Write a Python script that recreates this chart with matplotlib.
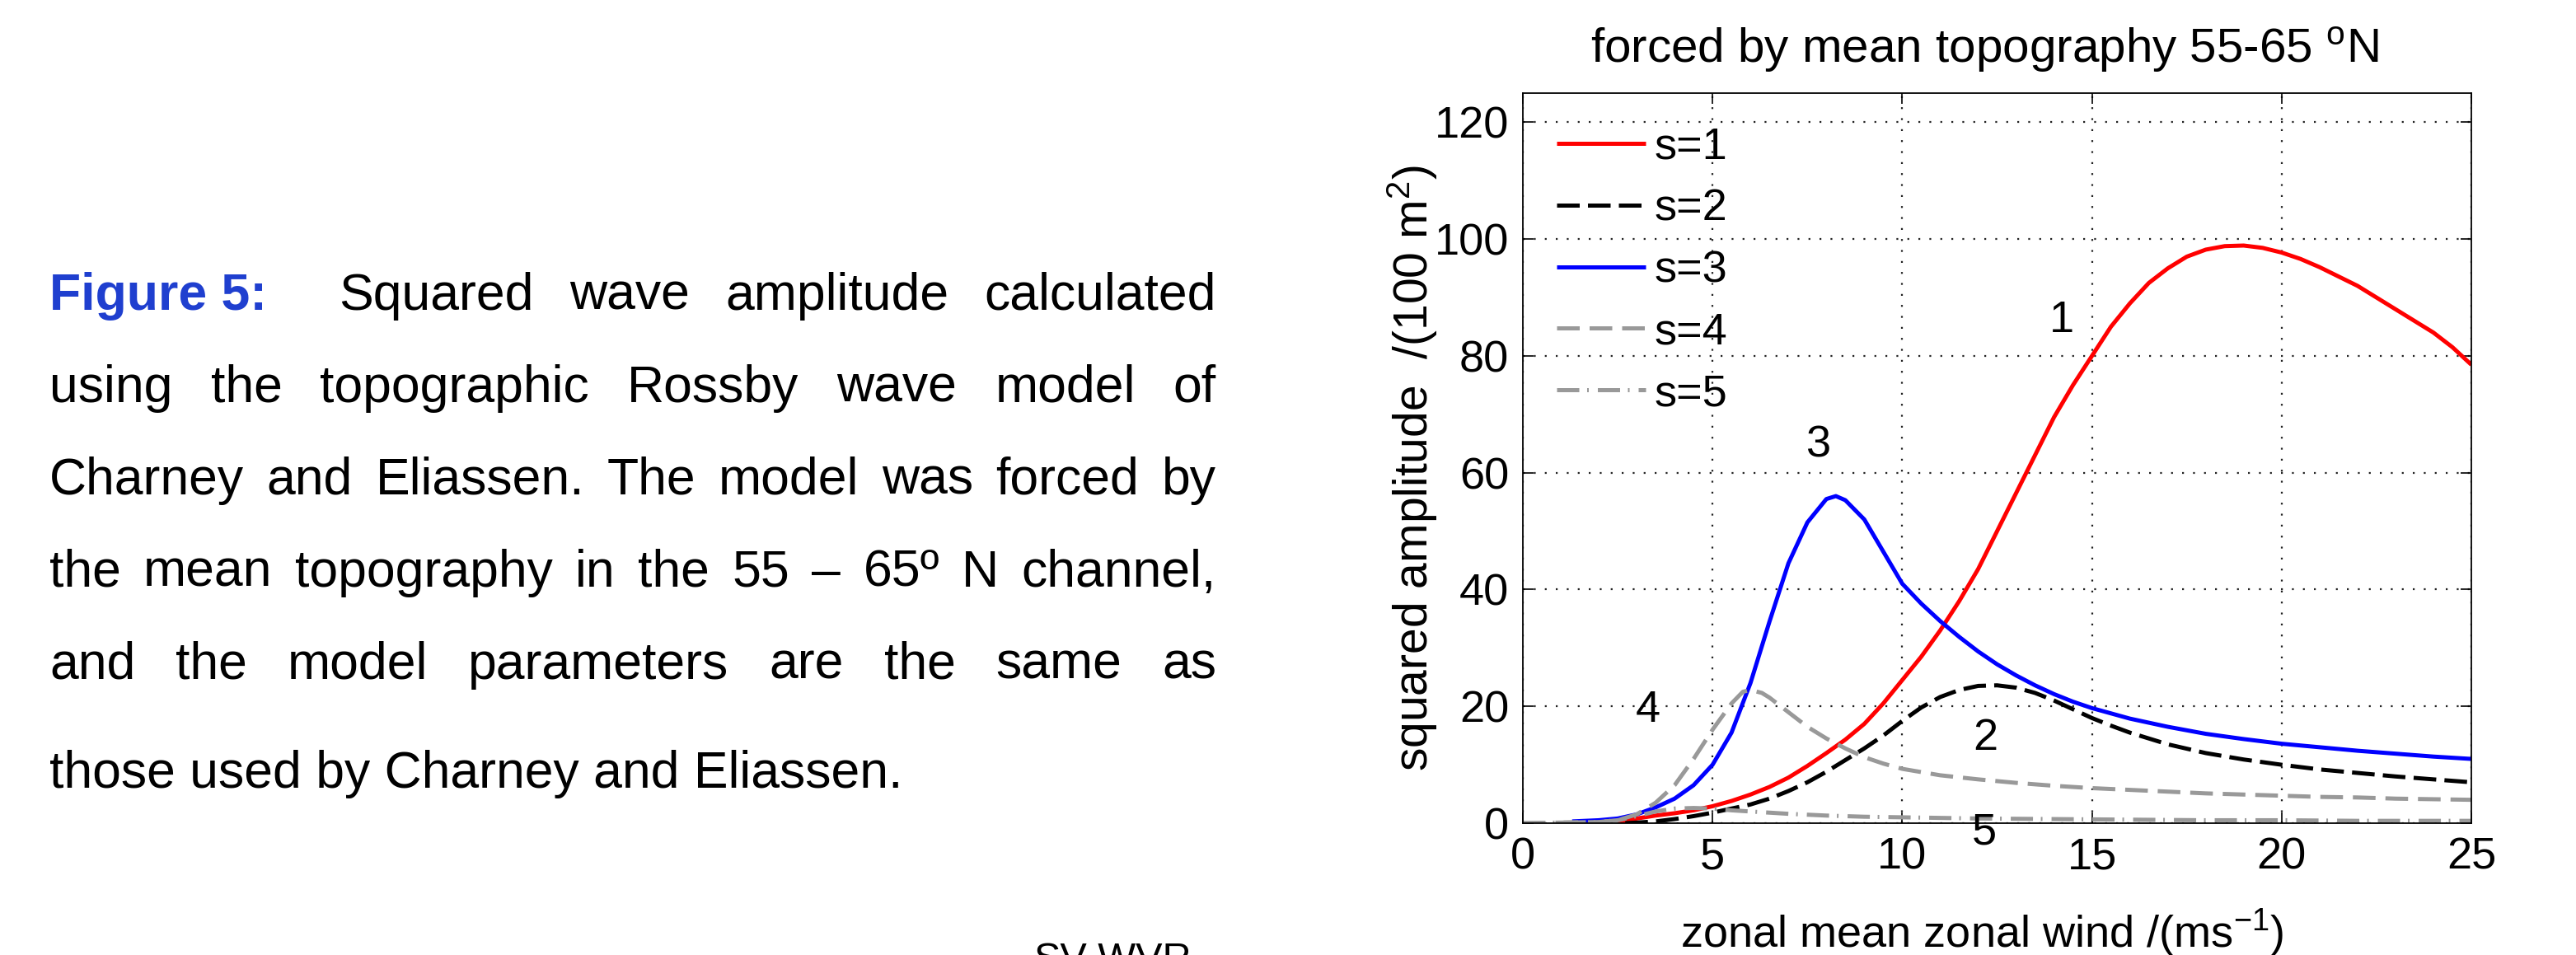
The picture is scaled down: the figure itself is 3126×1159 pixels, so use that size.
"""Squared wave amplitude vs zonal wind, Charney-Eliassen topographic Rossby wave model."""

import matplotlib
matplotlib.use("Agg")
import matplotlib.pyplot as plt

plt.rcParams["font.family"] = ["Liberation Sans", "DejaVu Sans"]
plt.rcParams["mathtext.fontset"] = "custom"
plt.rcParams["mathtext.rm"] = "Liberation Sans"
plt.rcParams["mathtext.it"] = "Liberation Sans:italic"

# ---- data ------------------------------------------------------------------
s1_x = [2.5, 3, 3.5, 4, 4.5, 5, 5.5, 6, 6.5, 7, 7.5, 8, 8.5, 9, 9.5, 10, 10.5,
        11, 11.5, 12, 12.5, 13, 13.5, 14, 14.5, 15, 15.5, 16, 16.5, 17, 17.5,
        18, 18.5, 19, 19.5, 20, 20.5, 21, 21.5, 22, 22.5, 23, 23.5, 24, 24.5, 25]
s1_y = [0, 0.8, 1.3, 1.7, 2.2, 2.9, 3.8, 4.9, 6.2, 7.8, 9.8, 12, 14.3, 17, 20.5,
        24.5, 28.5, 33, 38, 43.5, 50, 56.5, 63, 69.5, 75, 80, 85, 89, 92.5, 95,
        97, 98.2, 98.8, 98.9, 98.5, 97.7, 96.6, 95.2, 93.6, 92, 90, 88, 86, 84,
        81.5, 78.5]

s2_x = [2.7, 3, 3.5, 4, 4.5, 5, 5.5, 6, 6.5, 7, 7.5, 8, 8.5, 9, 9.5, 10, 10.5,
        11, 11.5, 12, 12.5, 13, 13.5, 14, 14.5, 15, 15.5, 16, 17, 18, 19, 20,
        21, 22, 23, 24, 25]
s2_y = [0, 0.1, 0.3, 0.7, 1.2, 1.8, 2.5, 3.2, 4.2, 5.5, 7, 8.8, 10.8, 12.8, 15,
        17.5, 19.8, 21.6, 22.8, 23.5, 23.6, 23.2, 22.3, 21, 19.5, 18, 16.7,
        15.5, 13.5, 12, 10.9, 10, 9.2, 8.6, 8.0, 7.5, 7.0]

s3_x = [1.3, 2, 2.5, 3, 3.5, 4, 4.5, 5, 5.5, 6, 6.5, 7, 7.5, 8, 8.25, 8.5, 9,
        9.5, 10, 10.5, 11, 11.5, 12, 12.5, 13, 13.5, 14, 14.5, 15, 16, 17, 18,
        19, 20, 21, 22, 23, 24, 25]
s3_y = [0.3, 0.5, 0.8, 1.5, 2.7, 4.2, 6.5, 10, 15.5, 24, 34.5, 44.5, 51.5, 55.5,
        56, 55.3, 52, 46.5, 41, 37.6, 34.6, 31.9, 29.4, 27.2, 25.3, 23.6, 22.1,
        20.8, 19.7, 17.9, 16.5, 15.3, 14.4, 13.6, 13.0, 12.4, 11.9, 11.4, 11.0]

s4_x = [0, 2, 2.5, 3, 3.5, 4, 4.5, 5, 5.5, 5.8, 6, 6.3, 6.5, 7, 7.5, 8, 8.5, 9,
        9.5, 10, 11, 12, 13, 14, 15, 16, 17, 18, 19, 20, 21, 22, 23, 24, 25]
s4_y = [0, 0.2, 0.5, 1.5, 3.5, 6.5, 11, 16, 20.5, 22.5, 22.8, 22.3, 21.5, 19,
        16.5, 14.5, 12.8, 11.3, 10.2, 9.3, 8.2, 7.5, 6.9, 6.4, 6.0, 5.7, 5.4,
        5.1, 4.9, 4.7, 4.5, 4.4, 4.2, 4.1, 4.0]

s5_x = [0, 2, 2.5, 3, 3.5, 4, 4.5, 5, 5.5, 6, 7, 8, 9, 10, 12, 14, 16, 18, 20,
        22, 25]
s5_y = [0, 0.2, 0.5, 1.2, 2.0, 2.5, 2.6, 2.5, 2.2, 2.0, 1.6, 1.3, 1.1, 1.0, 0.8,
        0.7, 0.6, 0.5, 0.5, 0.4, 0.4]

legend_labels = ["s=1", "s=2", "s=3", "s=4", "s=5"]
curve_tags = ["1", "2", "3", "4", "5"]
tag_x = [14.2, 12.2, 7.8, 3.3, 12.15]
tag_y = [86, 14.6, 64.7, 19.3, -1.6]

x_ticks = [0, 5, 10, 15, 20, 25]
y_ticks = [0, 20, 40, 60, 80, 100, 120]

# (word, number of spaces after it)
caption_lines = [
    [("Figure 5:", 2), ("Squared", 1), ("wave", 1), ("amplitude", 1), ("calculated", 0)],
    [("using", 1), ("the", 1), ("topographic", 1), ("Rossby", 1), ("wave", 1),
     ("model", 1), ("of", 0)],
    [("Charney", 1), ("and", 1), ("Eliassen.", 1), ("The", 1), ("model", 1),
     ("was", 1), ("forced", 1), ("by", 0)],
    [("the", 1), ("mean", 1), ("topography", 1), ("in", 1), ("the", 1), ("55", 1),
     ("–", 1), ("65º", 1), ("N", 1), ("channel,", 0)],
    [("and", 1), ("the", 1), ("model", 1), ("parameters", 1), ("are", 1),
     ("the", 1), ("same", 1), ("as", 0)],
    [("those used by Charney and Eliassen.", 0)],
]
justify = [True, True, True, True, True, False]

# ---- figure -----------------------------------------------------------------
W, H = 3126, 1159
fig = plt.figure(figsize=(W / 100, H / 100), dpi=100)
ax = fig.add_axes([1848 / W, 1 - 999 / H, (2999 - 1848) / W, (999 - 113) / H])

FS = 39
styles = [
    dict(color="red", linestyle="-"),
    dict(color="black", linestyle=(0, (5.5, 2.0))),
    dict(color="blue", linestyle="-"),
    dict(color="#999999", linestyle=(0, (5.5, 2.4))),
    dict(color="#999999", linestyle=(0, (5.4, 1.9, 0.4, 2.2))),
]
series = [(s1_x, s1_y), (s2_x, s2_y), (s3_x, s3_y), (s4_x, s4_y), (s5_x, s5_y)]
for (xs, ys), st, lab in zip(series, styles, legend_labels):
    ax.plot(xs, ys, linewidth=3.6, label=lab, solid_capstyle="butt",
            dash_capstyle="butt", **st)

ax.set_xlim(0, 25)
ax.set_ylim(0, 125)
ax.set_xticks(x_ticks)
ax.set_yticks(y_ticks)
ax.tick_params(direction="in", length=9.5, width=1.2, labelsize=FS,
               top=True, right=True, pad=12)
for sp in ax.spines.values():
    sp.set_linewidth(1.3)
ax.grid(True, color="#222222", linestyle=(0, (1, 5)), linewidth=1.6)
ax.set_axisbelow(True)

for t, tx, ty in zip(curve_tags, tag_x, tag_y):
    ax.text(tx, ty, t, fontsize=FS, ha="center", va="center", clip_on=False)

ax.legend(loc="upper left", frameon=False, fontsize=FS, handlelength=2.0,
          handletextpad=0.2, labelspacing=0.46, borderaxespad=0.3,
          borderpad=0.45)

fig.text(2408 / W, 1 - 76 / H, "forced by mean topography 55-65 $^{\\rm o}$N",
         fontsize=42, ha="center", va="baseline")
fig.text(2405 / W, 1 - 1150 / H, "zonal mean zonal wind /(ms$^{-1}$)",
         fontsize=FS, ha="center", va="baseline")
fig.text(1714 / W, 1 - 568 / H, "squared amplitude  /(100 m$^{2}$)",
         fontsize=41, ha="center", va="center", rotation=90)

# ---- justified caption on the left ---------------------------------------------
CAP_FS = 45
left_px, right_px = 60, 1476
baselines = [376, 488, 600, 712, 824, 956]
renderer = fig.canvas.get_renderer()

for line, base, just in zip(caption_lines, baselines, justify):
    items = []
    for word, n_sp in line:
        if word == "Figure 5:":
            t = fig.text(0, 1 - base / H, word, fontsize=CAP_FS, fontweight="bold",
                         color="#1f3fcf", va="baseline")
        else:
            t = fig.text(0, 1 - base / H, word, fontsize=CAP_FS, va="baseline")
        items.append((t, t.get_window_extent(renderer).width, n_sp))
    total_w = sum(w for _, w, _ in items)
    n_spaces = sum(n for _, _, n in items)
    gap = (right_px - left_px - total_w) / n_spaces if (just and n_spaces) else 0
    x = left_px
    for t, w, n_sp in items:
        t.set_x(x / W)
        x += w + n_sp * gap

fig.text(1255 / W, 1 - 1143 / H, "SV-WVR", fontsize=35, ha="left", va="top")

fig.savefig("out.png", dpi=100)
